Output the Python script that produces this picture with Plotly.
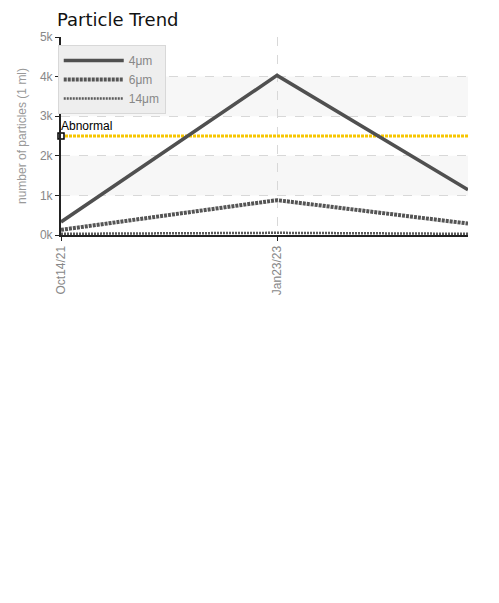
import plotly.graph_objects as go

dates = ["2021-10-14", "2023-01-23", "2024-03-10"]
tick_dates = ["2021-10-14", "2023-01-23"]
tick_labels = ["Oct14/21", "Jan23/23"]
s4 = [330, 4030, 1140]
s6 = [130, 880, 290]
s14 = [30, 55, 30]
abnormal = 2500
y_ticks = [0, 1000, 2000, 3000, 4000, 5000]
y_labels = ["0k", "1k", "2k", "3k", "4k", "5k"]

W, H = 499, 603
fig = go.Figure()

# alternating bands
for y0, y1 in [(1000, 2000), (3000, 4000)]:
    fig.add_shape(type="rect", xref="paper", yref="y", x0=0, x1=1, y0=y0, y1=y1,
                  fillcolor="#f7f7f7", line_width=0, layer="below")

# abnormal line
fig.add_trace(go.Scatter(x=[dates[0], dates[-1]], y=[abnormal, abnormal], mode="lines",
                         line=dict(color="#f7c600", width=3, dash="3px,1px"),
                         showlegend=False, hoverinfo="skip"))
fig.add_trace(go.Scatter(x=[dates[0]], y=[abnormal], mode="markers",
                         marker=dict(symbol="square", size=6, color="white", line=dict(width=1.5, color="black")),
                         showlegend=False, hoverinfo="skip", cliponaxis=False))
narrow = "Liberation Sans Narrow, Arial Narrow, sans-serif"
fig.add_annotation(x=dates[0], y=abnormal, text="Abnormal", showarrow=False,
                   xanchor="left", yanchor="bottom", yshift=1, xshift=-2,
                   font=dict(family=narrow, size=12, color="#000"))

fig.add_trace(go.Scatter(x=dates, y=s14, mode="lines", name="14\u03bcm",
                         line=dict(color="#5a5a5a", width=2.5, dash="2px,1px")))
fig.add_trace(go.Scatter(x=dates, y=s6, mode="lines", name="6\u03bcm",
                         line=dict(color="#555555", width=4, dash="3px,1px")))
fig.add_trace(go.Scatter(x=dates, y=s4, mode="lines", name="4\u03bcm",
                         line=dict(color="#505050", width=3.5)))

fig.update_layout(
    width=W, height=H,
    margin=dict(l=53, r=39, t=29, b=376, autoexpand=False),
    paper_bgcolor="white", plot_bgcolor="white",
    title=dict(text="Particle Trend", x=49/W, xanchor="left", y=1-11.5/H, yanchor="middle",
               pad=dict(t=0, b=0, l=0, r=0),
               font=dict(family="DejaVu Sans", size=18, color="#111")),
    legend=dict(x=-0.008, y=0.96, xanchor="left", yanchor="top", traceorder="reversed",
                bgcolor="#eeeeee", bordercolor="#d8d8d8", borderwidth=1,
                font=dict(family=narrow, size=12, color="#888"),
                itemwidth=60, tracegroupgap=0),
    xaxis=dict(type="date", range=[dates[0], dates[-1]], tickvals=tick_dates, ticktext=tick_labels,
               tickangle=-90, tickfont=dict(family=narrow, size=12, color="#888"),
               showgrid=True, gridcolor="#d8d8d8", griddash="dash", gridwidth=1,
               showline=True, linecolor="#222", linewidth=2, ticks="outside", ticklen=4,
               tickcolor="#222", zeroline=False, automargin=False),
    yaxis=dict(range=[0, 5000], tickvals=y_ticks, ticktext=y_labels,
               tickfont=dict(family=narrow, size=12, color="#888"),
               title=dict(text="number of particles (1 ml)", font=dict(family=narrow, size=12, color="#999"), standoff=11),
               showgrid=True, gridcolor="#d8d8d8", griddash="dash", gridwidth=1,
               showline=True, linecolor="#222", linewidth=2, ticks="outside", ticklen=4,
               tickcolor="#222", zeroline=False, automargin=False),
)

fig.write_html("out.html")
